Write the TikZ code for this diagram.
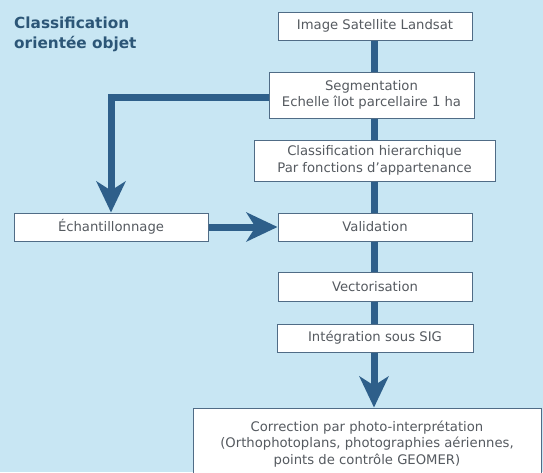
\documentclass[tikz,border=0pt]{standalone}
\usepackage{fontspec}
\setmainfont{DejaVu Sans}
\usetikzlibrary{arrows.meta}
\definecolor{bg}{HTML}{C8E6F3}
\definecolor{flow}{HTML}{2E5F8A}
\definecolor{boxline}{HTML}{506C86}
\definecolor{txt}{HTML}{555A60}
\definecolor{title}{HTML}{2C5677}
\tikzset{
  stepbox/.style={draw=boxline, line width=1pt, fill=white, text=txt, inner sep=0pt,
    align=center, font=\fontsize{13.2}{16.5}\selectfont},
  flowline/.style={draw=flow, line width=7pt},
  bigtip/.style={-{Stealth[length=31pt,width=29pt,inset=9pt]}},
  titletext/.style={text=title, font=\fontsize{15.3}{19}\selectfont\bfseries, inner sep=0pt, anchor=base west}
}
\begin{document}
\begin{tikzpicture}[x=1pt,y=-1pt]
\clip (0,0) rectangle (543,472);
\fill[bg] (0,0) rectangle (543,472);

\node[titletext] (t1) at (14,28) {Classification};
\node[titletext] (t2) at (14,48) {orientée objet};

\node[stepbox, minimum width=194pt, minimum height=28pt] (landsat) at (375,26) {Image Satellite Landsat};
\node[stepbox, minimum width=205pt, minimum height=46pt] (seg) at (371.5,95) {Segmentation\\Echelle îlot parcellaire 1 ha};
\node[stepbox, minimum width=241pt, minimum height=41pt] (classif) at (374.5,160.5) {Classification hierarchique\\Par fonctions d’appartenance};
\node[stepbox, minimum width=194pt, minimum height=28pt] (ech) at (111,227) {Échantillonnage};
\node[stepbox, minimum width=194pt, minimum height=28pt] (valid) at (375,227) {Validation};
\node[stepbox, minimum width=194pt, minimum height=29pt] (vect) at (375,286.5) {Vectorisation};
\node[stepbox, minimum width=196pt, minimum height=28pt] (integ) at (375,338) {Intégration sous SIG};
\node[stepbox, minimum width=348pt, minimum height=72pt] (corr) at (367,444) {Correction par photo-interprétation\\(Orthophotoplans, photographies aériennes,\\points de contrôle GEOMER)};

\coordinate (segl) at ([yshift=-2pt]seg.west);
\draw[flowline] (landsat.south -| 374,0) -- (seg.north -| 374,0);
\draw[flowline] (seg.south -| 374,0) -- (classif.north -| 374,0);
\draw[flowline] (classif.south -| 374,0) -- (valid.north -| 374,0);
\draw[flowline] (valid.south -| 374,0) -- (vect.north -| 374,0);
\draw[flowline] (vect.south -| 374,0) -- (integ.north -| 374,0);
\draw[flowline, bigtip] (integ.south -| 374,0) -- (corr.north -| 374,0);
\draw[flowline, bigtip] (segl) -| (ech.north);
\draw[flowline, bigtip] (ech.east) -- (valid.west);
\end{tikzpicture}
\end{document}
